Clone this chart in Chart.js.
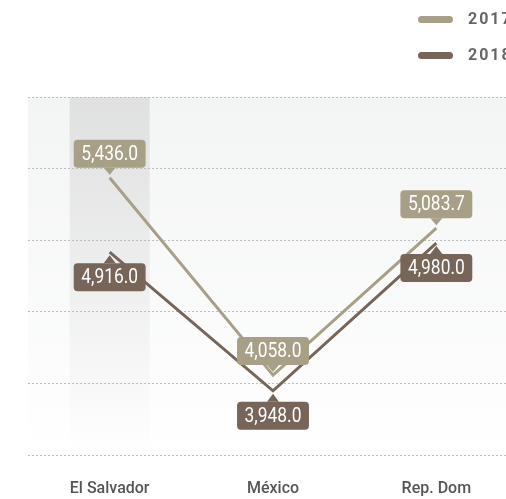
<!DOCTYPE html>
<html>
<head>
<meta charset="utf-8">
<script src="https://cdn.jsdelivr.net/npm/chart.js@4"></script>
<style>
  html, body { margin: 0; padding: 0; background: #fff; overflow: hidden; }
  #wrap { position: absolute; left: 0; top: 0; width: 540px; height: 499px; }
  #legend { position: absolute; left: 418px; top: 10px; }
  .item { position: relative; height: 36px; }
  .swatch { position: absolute; left: 0; top: 6px; width: 35px; height: 7px; border-radius: 4px; }
  .txt { position: absolute; left: 50px; top: -1px; font: bold 16px Roboto, sans-serif; letter-spacing: 2px; color: #666; line-height: 20px; white-space: nowrap; }
</style>
</head>
<body>
<div id="wrap"><canvas id="chart"></canvas></div>
<div id="legend"></div>
<script>
const categories = ['El Salvador', 'México', 'Rep. Dom'];
const seriesLabels = ['2017', '2018'];
const values2017 = [5436.0, 4058.0, 5083.7];
const values2018 = [4916.0, 3948.0, 4980.0];
const colors = ['#a89f87', '#766558'];
const yTicks = [3500, 4000, 4500, 5000, 5500, 6000];

const fmt = v => v.toLocaleString('en-US', { minimumFractionDigits: 1, maximumFractionDigits: 1 });

// legend in html
const legend = document.getElementById('legend');
seriesLabels.forEach((lbl, i) => {
  const item = document.createElement('div');
  item.className = 'item';
  item.innerHTML = `<div class="swatch" style="background:${colors[i]}"></div><div class="txt">${lbl}</div>`;
  legend.appendChild(item);
});

const bgPlugin = {
  id: 'bg',
  beforeDraw(chart) {
    const { ctx, chartArea: a, scales } = chart;
    ctx.save();
    let g = ctx.createLinearGradient(0, a.top, 0, a.bottom);
    g.addColorStop(0, '#f3f4f4');
    g.addColorStop(1, '#ffffff');
    ctx.fillStyle = g;
    ctx.fillRect(a.left, a.top, a.right - a.left, a.bottom - a.top);
    // highlighted column
    const x = scales.x.getPixelForValue(0);
    g = ctx.createLinearGradient(0, a.top, 0, a.bottom);
    g.addColorStop(0, 'rgba(200,200,200,0.45)');
    g.addColorStop(1, 'rgba(200,200,200,0)');
    ctx.fillStyle = g;
    ctx.fillRect(x - 40, a.top, 80, a.bottom - a.top);
    ctx.restore();
  }
};

const labelPlugin = {
  id: 'boxLabels',
  afterDatasetsDraw(chart) {
    const ctx = chart.ctx;
    const sx = 0.87;
    ctx.save();
    ctx.font = '20px Roboto, sans-serif';
    ctx.textAlign = 'center';
    ctx.textBaseline = 'middle';
    chart.data.datasets.forEach((ds, di) => {
      const meta = chart.getDatasetMeta(di);
      meta.data.forEach((pt, i) => {
        const text = fmt(ds.data[i]);
        const w = ctx.measureText(text).width * sx + 15;
        const h = 28;
        const up = di === 0;
        const tip = up ? pt.y - 3 : pt.y + 3;
        const base = up ? pt.y - 10 : pt.y + 11;
        const top = up ? base - h : base;
        ctx.fillStyle = ds.borderColor;
        ctx.beginPath();
        ctx.roundRect(pt.x - w / 2, top, w, h, 4);
        ctx.fill();
        ctx.beginPath();
        ctx.moveTo(pt.x - 6, base);
        ctx.lineTo(pt.x, tip);
        ctx.lineTo(pt.x + 6, base);
        ctx.closePath();
        ctx.fill();
        ctx.fillStyle = '#ffffff';
        ctx.save();
        ctx.translate(pt.x, top + h / 2 + 1);
        ctx.scale(sx, 1);
        ctx.fillText(text, 0, 0);
        ctx.restore();
      });
    });
    ctx.restore();
  }
};

new Chart(document.getElementById('chart'), {
  type: 'line',
  data: {
    labels: categories,
    datasets: [
      { label: seriesLabels[0], data: values2017, borderColor: colors[0], borderWidth: 3, pointRadius: 0, tension: 0 },
      { label: seriesLabels[1], data: values2018, borderColor: colors[1], borderWidth: 3, pointRadius: 0, tension: 0 }
    ]
  },
  options: {
    responsive: true,
    maintainAspectRatio: false,
    animation: false,
    layout: { padding: { left: 28, right: 22, top: 97, bottom: 0 } },
    plugins: { legend: { display: false }, tooltip: { enabled: false } },
    scales: {
      x: {
        offset: true,
        afterFit: s => { s.height = 44; },
        grid: { display: false },
        border: { display: false },
        ticks: { padding: 16, color: '#555', maxRotation: 0, font: { family: 'Roboto, sans-serif', size: 16, weight: '500' } }
      },
      y: {
        min: yTicks[0],
        max: yTicks[yTicks.length - 1],
        afterBuildTicks: s => { s.ticks = yTicks.map(v => ({ value: v })); },
        ticks: { display: false },
        border: { display: false, dash: [2, 2] },
        grid: { color: '#bdbdbd', lineWidth: 1, drawTicks: false }
      }
    }
  },
  plugins: [bgPlugin, labelPlugin]
});
</script>
</body>
</html>
